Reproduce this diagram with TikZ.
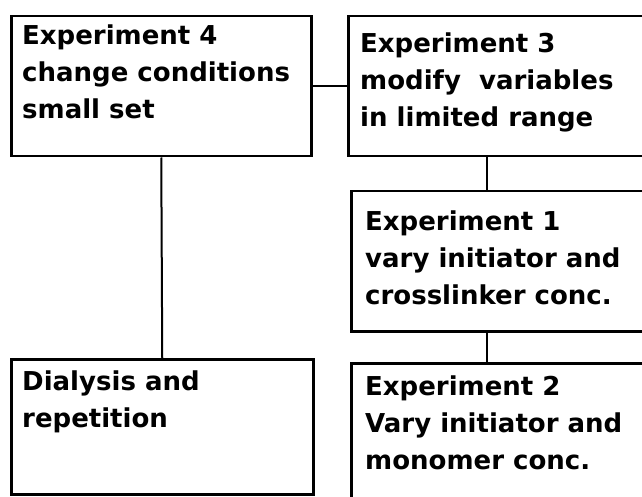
\documentclass[tikz,border=0pt]{standalone}
\usepackage{fontspec}
\setmainfont{DejaVu Sans}

\begin{document}
\begin{tikzpicture}[x=1pt, y=-1pt,
	exp box/.style={draw, line width=2.5pt, inner sep=0pt, anchor=north west},
	exp text/.style={anchor=north west, inner sep=0pt, align=left, font=\fontsize{26}{37}\selectfont\bfseries}]
	%page frame, boxes run off the right edge
	\useasboundingbox (0,0) rectangle (642,497);
	\clip (0,0) rectangle (642,497);
	\fill[white] (0,0) rectangle (642,497);
	
	%boxes
	\node[exp box, minimum width=300pt, minimum height=140pt] (A) at (10,15) {};
	\node[exp box, minimum width=303pt, minimum height=140pt] (B) at (347,15) {};
	\node[exp box, minimum width=300pt, minimum height=140pt] (C) at (350,190) {};
	\node[exp box, minimum width=302pt, minimum height=135pt] (D) at (10,358) {};
	\node[exp box, minimum width=300pt, minimum height=145pt] (E) at (350,362) {};
	
	%texts
	\node[exp text] (tA) at ([shift={(12,10)}]A.north west) {Experiment 4\\change conditions\\small set};
	\node[exp text] (tB) at ([shift={(13,18)}]B.north west) {Experiment 3\\modify\ \ variables\\in limited range};
	\node[exp text] (tC) at ([shift={(15,21)}]C.north west) {Experiment 1\\vary initiator and\\crosslinker conc.};
	\node[exp text] (tD) at ([shift={(12,13)}]D.north west) {Dialysis and\\repetition};
	\node[exp text] (tE) at ([shift={(15,14)}]E.north west) {Experiment 2\\Vary initiator and\\monomer conc.};
	
	%connectors
	\draw[line width=2pt] (A.east) -- (B.west);
	\draw[line width=2pt] (A.south) -- (D.north);
	\draw[line width=2pt] ([xshift=140pt]B.south west) -- ([xshift=137pt]C.north west);
	\draw[line width=2pt] ([xshift=137pt]C.south west) -- ([xshift=137pt]E.north west);
\end{tikzpicture}
\end{document}
